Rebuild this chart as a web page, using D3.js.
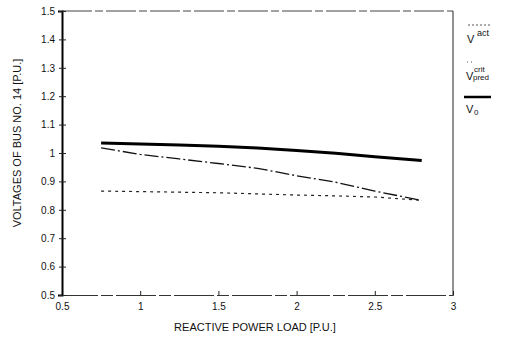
<!DOCTYPE html>
<html>
<head>
<meta charset="utf-8">
<script src="https://cdn.jsdelivr.net/npm/d3@7"></script>
<style>
  body { margin: 0; background: #fff; }
  svg { font-family: "Liberation Sans", Arial, sans-serif; }
</style>
</head>
<body>
<div id="chart"></div>
<script>
// Data
var load  = [0.75, 1.0, 1.25, 1.5, 1.75, 2.0, 2.25, 2.5, 2.8];
var vZero = [1.035, 1.032, 1.028, 1.024, 1.018, 1.009, 0.999, 0.987, 0.974];
var vAct  = [1.018, 0.995, 0.979, 0.963, 0.946, 0.92, 0.897, 0.866, 0.833];
var vCrit = [0.866, 0.864, 0.862, 0.86, 0.856, 0.852, 0.849, 0.845, 0.833];
var xTicks = [0.5, 1, 1.5, 2, 2.5, 3];
var yTicks = [0.5, 0.6, 0.7, 0.8, 0.9, 1, 1.1, 1.2, 1.3, 1.4, 1.5];

// Canvas
var w = 509, h = 339;
var m = {left: 62, right: 56, top: 11, bottom: 44};
var svg = d3.select("#chart").append("svg").attr("width", w).attr("height", h);

var x = d3.scaleLinear().domain([0.5, 3]).range([m.left, w - m.right]);
var y = d3.scaleLinear().domain([0.5, 1.5]).range([h - m.bottom, m.top]);

// frame (top/bottom look faint and broken in the scan)
svg.append("line").attr("x1", x(0.5)).attr("x2", x(3)).attr("y1", y(1.5)).attr("y2", y(1.5))
   .attr("stroke", "#444").attr("stroke-width", 1).attr("stroke-dasharray", "30,3,8,3");
svg.append("line").attr("x1", x(3)).attr("x2", x(3)).attr("y1", y(1.5)).attr("y2", y(0.5))
   .attr("stroke", "#222").attr("stroke-width", 1);

// axes
var xaxis = d3.axisBottom(x).tickValues(xTicks).tickSize(-4).tickPadding(8).tickFormat(d => String(d));
var yaxis = d3.axisLeft(y).tickValues(yTicks).tickSize(4).tickPadding(3).tickFormat(d => String(d));

var gx = svg.append("g").attr("transform", "translate(0," + y(0.5) + ")").call(xaxis);
var gy = svg.append("g").attr("transform", "translate(" + x(0.5) + ",0)").call(yaxis);
gx.select(".domain").attr("stroke", "#333").attr("stroke-dasharray", "40,3,12,3");
gy.select(".domain").attr("stroke", "#000").attr("stroke-width", 2);
svg.selectAll(".tick line").attr("stroke", "#222");
svg.selectAll(".tick text").attr("fill", "#111").style("font-size", "10px");
gy.selectAll(".tick line").attr("x2", 4).attr("x1", -3);

// lines
var pts = function(vals) { return load.map(function(d, i) { return [d, vals[i]]; }); };
var line = d3.line().x(d => x(d[0])).y(d => y(d[1]));

svg.append("path").datum(pts(vCrit)).attr("d", line).attr("fill", "none")
   .attr("stroke", "#222").attr("stroke-width", 1.2).attr("stroke-dasharray", "3,4");
svg.append("path").datum(pts(vAct)).attr("d", line).attr("fill", "none")
   .attr("stroke", "#111").attr("stroke-width", 1.3).attr("stroke-dasharray", "14,3,2,3");
svg.append("path").datum(pts(vZero)).attr("d", line).attr("fill", "none")
   .attr("stroke", "#000").attr("stroke-width", 3);

// axis titles
svg.append("text").attr("x", 255).attr("y", 331).attr("text-anchor", "middle")
   .style("font-size", "11px").attr("fill", "#111").text("REACTIVE POWER LOAD [P.U.]");
svg.append("text").attr("transform", "translate(21,143) rotate(-90)").attr("text-anchor", "middle")
   .style("font-size", "11px").attr("fill", "#111").text("VOLTAGES OF BUS NO. 14 [P.U.]");

// legend
var lg = svg.append("g");
lg.append("line").attr("x1", 468).attr("x2", 492).attr("y1", 25).attr("y2", 25)
  .attr("stroke", "#555").attr("stroke-width", 1).attr("stroke-dasharray", "2,2");
lg.append("text").attr("x", 467).attr("y", 43).attr("fill", "#111").style("font-size", "11px").text("V");
lg.append("text").attr("x", 477).attr("y", 36).attr("fill", "#111").style("font-size", "9px").text("act");

lg.append("line").attr("x1", 467).attr("x2", 472).attr("y1", 62).attr("y2", 62)
  .attr("stroke", "#555").attr("stroke-width", 1).attr("stroke-dasharray", "1,3");
lg.append("text").attr("x", 466).attr("y", 80).attr("fill", "#111").style("font-size", "11px").text("V");
lg.append("text").attr("x", 474).attr("y", 72).attr("fill", "#111").style("font-size", "8px").text("crit");
lg.append("text").attr("x", 473).attr("y", 80).attr("fill", "#111").style("font-size", "8px").text("pred");

lg.append("line").attr("x1", 464).attr("x2", 491).attr("y1", 97).attr("y2", 97)
  .attr("stroke", "#000").attr("stroke-width", 2.5);
lg.append("text").attr("x", 466).attr("y", 113).attr("fill", "#111").style("font-size", "11px").text("V");
lg.append("text").attr("x", 474).attr("y", 115).attr("fill", "#111").style("font-size", "8px").text("0");
</script>
</body>
</html>
